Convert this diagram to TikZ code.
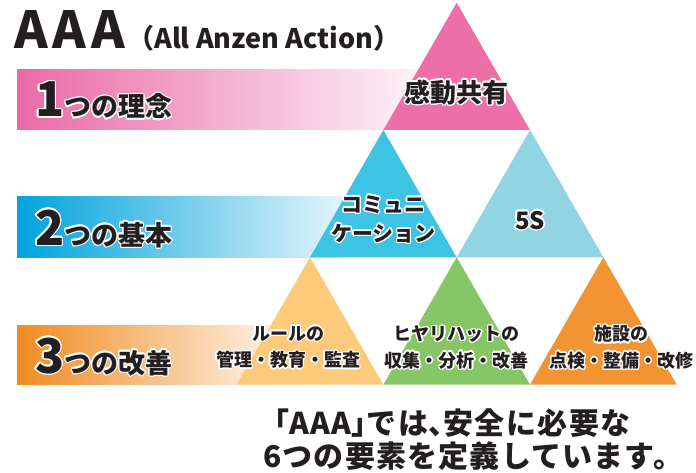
\documentclass[tikz,border=0pt]{standalone}
\usepackage{fontspec}
\setmainfont{Noto Sans CJK JP}
\usepackage[copies]{contour}
\contourlength{1.4pt}
\usetikzlibrary{positioning}

\definecolor{ink}{HTML}{231F20}
\definecolor{kandopink}{HTML}{EC6FA7}
\definecolor{bandpink}{HTML}{EA6AA6}
\definecolor{commblue}{HTML}{3DC3E4}
\definecolor{bandblue}{HTML}{00A3DC}
\definecolor{fivesblue}{HTML}{92D5E2}
\definecolor{ruleyellow}{HTML}{FDC97A}
\definecolor{hiyarigreen}{HTML}{87C666}
\definecolor{shisetsuorange}{HTML}{F39434}
\definecolor{bandorange}{HTML}{F18B22}

\newcommand{\halo}[1]{\contour{white}{#1}}
\newcommand{\fsz}[1]{\fontsize{#1}{#1}\selectfont}
\newcommand{\hw}[1]{{\addfontfeature{CharacterWidth=AlternateHalf}#1}}
% triangle with apex at (#1,#2)
\newcommand{\tri}[3]{\fill[#3] (#1,#2) -- ++(-73.3,127.3) -- ++(146.6,0) -- cycle;}

\begin{document}
\begin{tikzpicture}[x=1pt, y=-1pt,
    every node/.style={text=ink, inner sep=0pt, font=\bfseries},
    bandlbl/.style={anchor=base west},
    trilbl/.style={align=center}]
    \useasboundingbox (0,0) rectangle (696,473);
    % Title
    \node[anchor=base west, font=\bfseries\fsz{51}\addfontfeature{LetterSpace=10}] (title) at (14,49) {AAA};
    \node[anchor=base west, font=\bfseries\fsz{27}] (subtitle) at (127,49) {（All Anzen Action）};
    % Bands
    \shade[left color=bandpink, right color=white] (17,70) rectangle (456,130);
    \shade[left color=bandblue, right color=white] (17,197) rectangle (383,257.3);
    \shade[left color=bandorange, right color=white] (17,325) rectangle (310,384.6);
    % Triangles
    \tri{456.7}{2.7}{kandopink}
    \tri{383.3}{130}{commblue}
    \tri{530}{130}{fivesblue}
    \tri{310}{257.3}{ruleyellow}
    \tri{456.7}{257.3}{hiyarigreen}
    \tri{603.3}{257.3}{shisetsuorange}
    % Band labels
    \node[bandlbl] (rinen) at (35,117) {\halo{\fsz{48}1}\halo{\fsz{27}つの理念}};
    \node[bandlbl] (kihon) at (35,245) {\halo{\fsz{48}2}\halo{\fsz{27}つの基本}};
    \node[bandlbl] (kaizen) at (35,373) {\halo{\fsz{48}3}\halo{\fsz{27}つの改善}};
    % Triangle labels
    \node[trilbl, font=\bfseries\fsz{26}] (kando) at (456.7,93) {\halo{感動共有}};
    \node[trilbl, font=\bfseries\fontsize{21}{29}\selectfont] (comm) at (383.3,220) {\halo{コミュニ}\\\halo{ケーション}};
    \node[trilbl, font=\bfseries\fsz{24}] (fives) at (530,221) {\halo{5S}};
    \node[trilbl, font=\bfseries\fontsize{18}{26.5}\selectfont] (rule) at (288,348) {\halo{ルールの}\\\halo{管理・教育・監査}};
    \node[trilbl, font=\bfseries\fontsize{18}{26.5}\selectfont] (hiyari) at (456.7,348) {\halo{ヒヤリハットの}\\\halo{収集・分析・改善}};
    \node[trilbl, font=\bfseries\fontsize{18}{26.5}\selectfont] (shisetsu) at (621.5,348) {\halo{施設の}\\\halo{点検・整備・改修}};
    % Note
    \node[anchor=base west, font=\bfseries\fsz{30}\addfontfeature{LetterSpace=5}] (note1) at (274,434) {\hw{「}AAA\hw{」}では\hw{、}安全に必要な};
    \node[anchor=base west, font=\bfseries\fsz{30}\addfontfeature{LetterSpace=4}] (note2) at (263,467) {6つの要素を定義しています。};
\end{tikzpicture}
\end{document}
